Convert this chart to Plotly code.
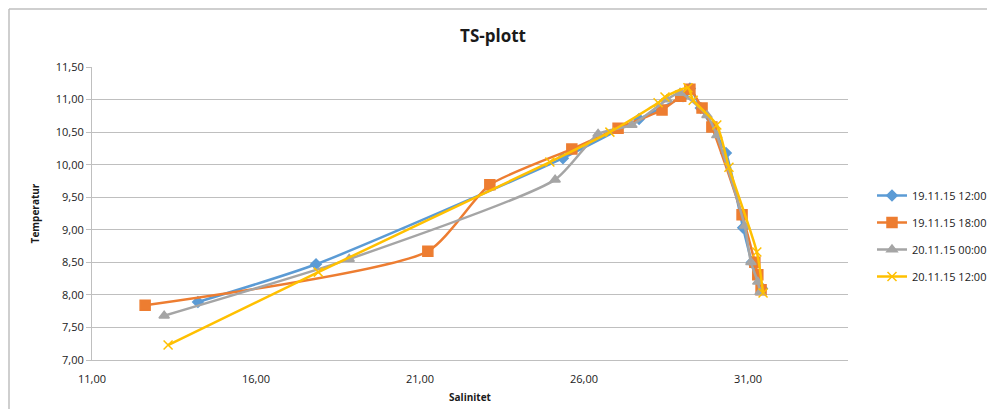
import plotly.graph_objects as go

series_names = ["19.11.15 12:00", "19.11.15 18:00", "20.11.15 00:00", "20.11.15 12:00"]

sal_blue = [14.23, 17.83, 25.36, 27.68, 29.02, 29.23, 29.56, 30.33, 30.85, 31.12, 31.43]
tmp_blue = [7.89, 8.47, 10.10, 10.70, 11.05, 11.17, 10.87, 10.18, 9.03, 8.50, 8.10]

sal_orange = [12.62, 21.24, 23.13, 25.63, 27.04, 28.38, 28.95, 29.23, 29.60, 29.90, 30.82, 31.21, 31.30, 31.40]
tmp_orange = [7.84, 8.67, 9.69, 10.24, 10.56, 10.84, 11.05, 11.16, 10.87, 10.58, 9.23, 8.50, 8.31, 8.08]

sal_gray = [13.20, 18.84, 25.12, 26.43, 27.46, 28.53, 28.93, 29.75, 30.05, 30.90, 31.09, 31.30, 31.37]
tmp_gray = [7.68, 8.55, 9.77, 10.47, 10.61, 11.00, 11.10, 10.76, 10.45, 9.06, 8.50, 8.20, 8.04]

sal_yellow = [13.32, 17.90, 24.96, 26.79, 28.26, 28.47, 29.17, 29.33, 30.05, 30.42, 31.27, 31.46]
tmp_yellow = [7.23, 8.35, 10.04, 10.50, 10.95, 11.04, 11.18, 10.99, 10.61, 9.96, 8.66, 8.03]

colors = ["#5B9BD5", "#ED7D31", "#A5A5A5", "#FFC000"]
symbols = ["diamond", "square", "triangle-up", "x-thin"]
xs = [sal_blue, sal_orange, sal_gray, sal_yellow]
ys = [tmp_blue, tmp_orange, tmp_gray, tmp_yellow]
msizes = [8, 10, 9, 9]

fig = go.Figure()
for i, (name, x, y, c, s, ms) in enumerate(zip(series_names, xs, ys, colors, symbols, msizes)):
    fig.add_trace(go.Scatter(
        x=x, y=y, name=name, mode="lines+markers", legendgroup=f"g{i}",
        line=dict(color=c, width=2.5, shape="spline", smoothing=0.6),
        marker=dict(symbol=s, size=ms, color=c, line=dict(color=c, width=1.5)),
    ))

# page has an 8px body margin; figure sized so no scrollbars appear
W, H = 987, 401
L, T = 84, 59
PW, PH = 756, 293
fig.update_layout(
    width=W, height=H,
    margin=dict(l=L, r=W - L - PW, t=T, b=H - T - PH),
    paper_bgcolor="white", plot_bgcolor="white",
    separators=", ",
    font=dict(family="Open Sans, Lato, sans-serif", color="#404040", size=11),
    title=dict(text="<b>TS-plott</b>", x=(493 - 8) / W, xanchor="center",
               y=1 - 28 / H, yanchor="middle",
               font=dict(size=17, color="#1a1a1a", family="Open Sans, sans-serif")),
    legend=dict(xref="container", yref="container",
                x=(872 - 8) / W, y=1 - (236 - 8) / H, xanchor="left", yanchor="middle",
                font=dict(size=11, color="#1a1a1a"), tracegroupgap=8, itemwidth=30),
    showlegend=True,
    xaxis=dict(range=[11, 34.05], tick0=11, dtick=5, tickformat=".2f", automargin=False,
               showgrid=False, zeroline=False, showline=True, linecolor="#BFBFBF", linewidth=1,
               ticks="outside", ticklen=9, tickcolor="rgba(0,0,0,0)",
               tickfont=dict(size=11, color="#1a1a1a"),
               title=dict(text="<b>Salinitet</b>", font=dict(size=10, color="#1a1a1a"), standoff=8)),
    yaxis=dict(range=[7, 11.5], dtick=0.5, tickformat=".2f", automargin=False,
               showgrid=True, gridcolor="#BFBFBF", gridwidth=1, zeroline=False,
               showline=True, linecolor="#BFBFBF", linewidth=1,
               ticks="outside", ticklen=5, tickcolor="#BFBFBF",
               tickfont=dict(size=11, color="#1a1a1a"),
               title=dict(text="<b>Temperatur</b>", font=dict(size=10, color="#1a1a1a"), standoff=14)),
    shapes=[
        dict(type="line", xref="paper", yref="paper",
             x0=(1 - L) / PW, x1=(W + 20 - L) / PW,
             y0=1 + (T - 1) / PH, y1=1 + (T - 1) / PH,
             line=dict(color="#BFBFBF", width=1.5)),
        dict(type="line", xref="paper", yref="paper",
             x0=(1 - L) / PW, x1=(1 - L) / PW,
             y0=-0.5, y1=1 + (T - 1) / PH,
             line=dict(color="#BFBFBF", width=1.5)),
    ],
)

fig.write_html("out.html")
